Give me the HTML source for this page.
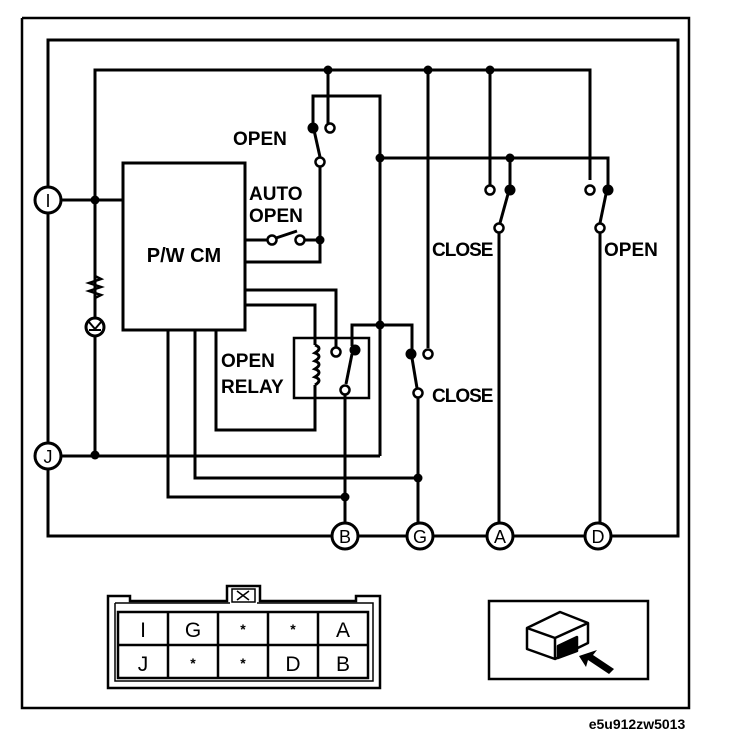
<!DOCTYPE html>
<html><head><style>
body{margin:0;background:#fff}
svg{display:block}
text{font-family:"Liberation Sans",Arial,sans-serif;font-weight:bold;fill:#000}
</style></head><body>
<svg width="736" height="742" viewBox="0 0 736 742" xmlns="http://www.w3.org/2000/svg">
<g fill="none" stroke="#000" stroke-width="3">
<polyline points="22,18 689,18 689,708 22,708 22,18" stroke-width="2.5"/>
<rect x="48" y="40" width="630" height="496"/>
<polyline points="95,456 95,70 590,70 590,180"/>
<line x1="48" y1="200" x2="123" y2="200"/>
<line x1="48" y1="456" x2="380" y2="456"/>
<rect x="123" y="163" width="122" height="167"/>
<line x1="328" y1="70" x2="328" y2="124"/>
<polyline points="313,124 313,96 380,96 380,456"/>
<line x1="314" y1="130" x2="320" y2="157"/>
<polyline points="320,167 320,262 245,262"/>
<line x1="245" y1="240" x2="268" y2="240"/>
<line x1="276" y1="238" x2="297" y2="231"/>
<line x1="304" y1="240" x2="320" y2="240"/>
<polyline points="380,158 608,158 608,186"/>
<line x1="510" y1="158" x2="510" y2="186"/>
<line x1="490" y1="70" x2="490" y2="185"/>
<line x1="508" y1="194" x2="500" y2="223"/>
<line x1="499" y1="233" x2="499" y2="523"/>
<line x1="606" y1="194" x2="600" y2="223"/>
<line x1="600" y1="233" x2="600" y2="523"/>
<line x1="428" y1="70" x2="428" y2="348"/>
<polyline points="352,346 352,325 412,325 412,350"/>
<line x1="412" y1="358" x2="417" y2="388"/>
<line x1="418" y1="398" x2="418" y2="523"/>
<polyline points="418,478 195,478 195,330"/>
<rect x="294" y="338" width="75" height="60" stroke-width="2.5"/>
<polyline points="245,290 336,290 336,348"/>
<polyline points="245,305 315,305 315,345"/>
<path d="M315,345 q8,3 0,8 q8,3 0,8 q8,3 0,8 q8,3 0,8 q8,3 0,8"/>
<polyline points="315,385 315,430 216,430 216,330"/>
<line x1="352" y1="354" x2="346" y2="384"/>
<polyline points="345,394 345,523"/>
<polyline points="345,497 168,497 168,330"/>
<path d="M95,276 l6,3 l-12,4 l12,4 l-12,4 l12,4 l-6,3" stroke-width="2.5"/>
<circle cx="95" cy="327" r="9" stroke-width="3" fill="#fff"/>
<path d="M89,322 l6,7 l6,-7 M89,330 h12" stroke-width="2"/>
</g>
<g fill="#000">
<circle cx="95" cy="200" r="4.5"/><circle cx="95" cy="455" r="4.5"/>
<circle cx="328" cy="70" r="4.5"/><circle cx="428" cy="70" r="4.5"/><circle cx="490" cy="70" r="4.5"/>
<circle cx="380" cy="158" r="4.5"/><circle cx="510" cy="158" r="4.5"/>
<circle cx="320" cy="240" r="4.5"/><circle cx="380" cy="325" r="4.5"/>
<circle cx="418" cy="478" r="4.5"/><circle cx="345" cy="497" r="4.5"/>
<circle cx="313" cy="128" r="5.5"/><circle cx="510" cy="190" r="5.5"/><circle cx="608" cy="190" r="5.5"/>
<circle cx="411" cy="354" r="5.5"/><circle cx="355" cy="350" r="5.5"/>
</g>
<g fill="#fff" stroke="#000" stroke-width="2.5">
<circle cx="330" cy="128" r="4.5"/><circle cx="320" cy="162" r="4.5"/>
<circle cx="272" cy="240" r="4.5"/><circle cx="300" cy="240" r="4.5"/>
<circle cx="490" cy="190" r="4.5"/><circle cx="499" cy="228" r="4.5"/>
<circle cx="590" cy="190" r="4.5"/><circle cx="600" cy="228" r="4.5"/>
<circle cx="428" cy="354" r="4.5"/><circle cx="418" cy="393" r="4.5"/>
<circle cx="336" cy="352" r="4.5"/><circle cx="345" cy="390" r="4.5"/>
<circle cx="48" cy="200" r="13" stroke-width="3"/><circle cx="48" cy="456" r="13" stroke-width="3"/>
<circle cx="345" cy="536" r="13" stroke-width="3"/><circle cx="420" cy="536" r="13" stroke-width="3"/>
<circle cx="500" cy="536" r="13" stroke-width="3"/><circle cx="598" cy="536" r="13" stroke-width="3"/>
</g>
<g font-size="18" text-anchor="middle" font-weight="normal">
<text x="48" y="207" style="font-weight:normal">I</text><text x="48" y="463" style="font-weight:normal">J</text>
<text x="345" y="543" style="font-weight:normal">B</text><text x="420" y="543" style="font-weight:normal">G</text>
<text x="500" y="543" style="font-weight:normal">A</text><text x="598" y="543" style="font-weight:normal">D</text>
</g>
<g font-size="19">
<text x="184" y="262" text-anchor="middle" font-size="20">P/W CM</text>
<text x="233" y="145">OPEN</text>
<text x="249" y="200">AUTO</text>
<text x="249" y="222">OPEN</text>
<text x="432" y="256" letter-spacing="-1">CLOSE</text>
<text x="604" y="256">OPEN</text>
<text x="221" y="367">OPEN</text>
<text x="221" y="393">RELAY</text>
<text x="432" y="402" letter-spacing="-1">CLOSE</text>
</g>
<g fill="none" stroke="#000">
<path d="M108,596 H130 V601 H227 V586 H260 V601 H356 V596 H380 V688 H108 Z" stroke-width="2.5"/>
<path d="M115,603 H230 M257,603 H373 V681 H115 V603" stroke-width="1.5"/>
<rect x="232" y="589" width="23" height="13" stroke-width="1.5"/>
<path d="M237,591 l12,9 M249,591 l-12,9" stroke-width="1.5"/>
<rect x="118" y="612" width="250" height="66" stroke-width="2.5"/>
<path d="M118,645 H368 M168,612 V678 M218,612 V678 M268,612 V678 M318,612 V678" stroke-width="2.5"/>
</g>
<g font-size="21" text-anchor="middle">
<text x="143" y="637" style="font-weight:normal">I</text><text x="193" y="637" style="font-weight:normal">G</text><text x="243" y="634" font-size="14">*</text><text x="293" y="634" font-size="14">*</text><text x="343" y="637" style="font-weight:normal">A</text>
<text x="143" y="671" style="font-weight:normal">J</text><text x="193" y="668" font-size="14">*</text><text x="243" y="668" font-size="14">*</text><text x="293" y="671" style="font-weight:normal">D</text><text x="343" y="671" style="font-weight:normal">B</text>
</g>
<rect x="489" y="601" width="159" height="78" fill="none" stroke="#000" stroke-width="2.5"/>
<g stroke="#000" stroke-width="2.5" fill="#fff" stroke-linejoin="round">
<path d="M527,628 L560,612 L588,623 L588,643 L555,659 L527,649 Z"/>
<path d="M527,628 L555,638 L588,623 M555,638 V659"/>
<path d="M558,646 L577,637 L577,651 L558,658 Z" fill="#000"/>
</g>
<path d="M579,656 L597,650 L593,655 L614,669 L609,674 L588,660 L586,667 Z" fill="#000"/>
<text x="637" y="729" font-size="14" text-anchor="middle">e5u912zw5013</text>
</svg>
</body></html>
